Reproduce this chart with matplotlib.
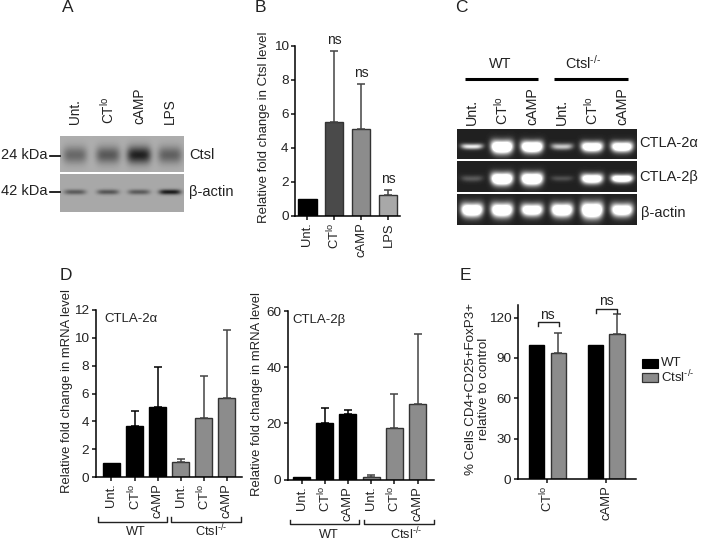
import numpy as np
import matplotlib
matplotlib.use("Agg")
import matplotlib.pyplot as plt

plt.rcParams["font.family"] = ["Liberation Sans", "DejaVu Sans"]
plt.rcParams["mathtext.fontset"] = "custom"
plt.rcParams["mathtext.rm"] = "Liberation Sans"
plt.rcParams["mathtext.default"] = "regular"

W, H = 701, 541
CTLO = "CT$^{lo}$"
KO = r"Ctsl$^{\text{-/-}}$"

# panel B
b_labels = ["Unt.", CTLO, "cAMP", "LPS"]
b_vals = [1.0, 5.5, 5.1, 1.25]
b_tops = [1.0, 9.7, 7.75, 1.5]
b_ns = ["", "ns", "ns", "ns"]
b_colors = ["#000000", "#4a4a4a", "#8c8c8c", "#a8a8a8"]

# panel D
d_labels = ["Unt.", CTLO, "cAMP", "Unt.", CTLO, "cAMP"]
d_colors = ["#000000"] * 3 + ["#8c8c8c"] * 3
alpha_vals = [1.0, 3.7, 5.0, 1.05, 4.25, 5.65]
alpha_tops = [1.0, 4.75, 7.9, 1.3, 7.25, 10.55]
beta_vals = [1.0, 20.0, 23.5, 1.0, 18.3, 26.8]
beta_tops = [1.0, 25.5, 24.8, 1.8, 30.5, 51.8]

# panel E
e_groups = [CTLO, "cAMP"]
e_wt = [100, 100]
e_ko = [93.5, 108]
e_ko_tops = [108.5, 122.5]

# gel A, band strength per lane
blot_lanes = [75, 108, 139, 170]
ctsl_amp = [0.27, 0.33, 0.55, 0.3]
actin_amp = [0.3, 0.32, 0.3, 0.55]

# gel C, band strength per lane
pcr_lanes = [472, 502, 532, 562, 592, 622]
c2a_amp = [0.8, 1.5, 1.5, 0.65, 1.3, 1.3]
c2a_high = [2.8, 6.5, 5.8, 3.2, 5.2, 5.2]
c2b_amp = [0.22, 1.5, 1.5, 0.18, 1.3, 1.3]
c2b_high = [3.2, 6.2, 6.2, 2.8, 5.0, 4.0]
cact_amp = [1.4, 1.4, 1.3, 1.4, 1.5, 1.3]
cact_high = [6.8, 7.0, 6.2, 6.8, 8.0, 6.5]


def px_axes(fig, l, t, r, b):
    return fig.add_axes([l / W, 1 - b / H, (r - l) / W, (b - t) / H])


def style_ax(ax):
    ax.patch.set_alpha(0)
    ax.spines["top"].set_visible(False)
    ax.spines["right"].set_visible(False)
    ax.spines["left"].set_linewidth(1.1)
    ax.spines["bottom"].set_linewidth(1.1)
    ax.tick_params(axis="both", width=1.1, length=2.8, labelsize=9.7, pad=1.8, color="#111111", labelcolor="#222222")
    ax.tick_params(axis="x", labelsize=9.4)


def bars(ax, xx, vals, tops, colors, width):
    for x, v, t, c in zip(xx, vals, tops, colors):
        ax.bar(x, v, width=width, color=c, edgecolor="#333333" if c != "#000000" else "#000000", linewidth=1.0)
        if t > v:
            ec = "#000000" if c == "#000000" else "#444444"
            ax.errorbar(x, v, yerr=[[0], [t - v]], color=ec, elinewidth=1.1, capsize=3.2, capthick=1.1, zorder=1)


def blot_gel(ov, amp, lanes, yc, sy, sx, bg, extent):
    l, r, t, b = extent
    xx, yy = np.meshgrid(np.arange(l, r) + 0.5, np.arange(t, b) + 0.5)
    img = np.full(xx.shape, bg, dtype=float)
    for x0, a in zip(lanes, amp):
        img -= a * np.exp(-((xx - x0) / sx) ** 4) * np.exp(-((yy - yc) / sy) ** 2)
    ov.imshow(np.clip(img, 0, 1), cmap="gray", vmin=0, vmax=1, extent=[l, r, b, t], aspect="auto", interpolation="bilinear", zorder=2)


def pcr_gel(ov, amp, high, lanes, yc, extent):
    l, r, t, b = extent
    xx, yy = np.meshgrid(np.arange(l, r) + 0.5, np.arange(t, b) + 0.5)
    img = np.full(xx.shape, 0.13)
    for x0, a, h in zip(lanes, amp, high):
        sag = 1.0 - ((xx - x0) / 12.0) ** 2
        img += a * np.exp(-((xx - x0) / 11.0) ** 4) * np.exp(-((yy - yc - 0.2 * h * sag) / h) ** 2)
    ov.imshow(np.clip(img, 0, 1), cmap="gray", vmin=0, vmax=1, extent=[l, r, b, t], aspect="auto", interpolation="bilinear", zorder=2)


def draw_overlay(fig):
    ov = fig.add_axes([0, 0, 1, 1], zorder=5)
    ov.axis("off")
    ov.patch.set_alpha(0)

    blot_gel(ov, ctsl_amp, blot_lanes, 155, 8.5, 12, 0.68, (60, 184, 136, 172))
    blot_gel(ov, actin_amp, blot_lanes, 192, 2.6, 11, 0.66, (60, 184, 174, 212))
    pcr_gel(ov, c2a_amp, c2a_high, pcr_lanes, 146, (457, 637, 129, 159))
    pcr_gel(ov, c2b_amp, c2b_high, pcr_lanes, 178, (457, 637, 161, 192))
    pcr_gel(ov, cact_amp, cact_high, pcr_lanes, 209, (457, 637, 194, 225))

    ov.set_xlim(0, W)
    ov.set_ylim(H, 0)

    tc = "#222222"
    for lab, x, y in [("A", 68, 8), ("B", 260, 8), ("C", 461, 8), ("D", 66, 275), ("E", 465, 275)]:
        ov.text(x, y, lab, fontsize=12.5, ha="center", va="center", color=tc)

    # A
    for x, lab in zip(blot_lanes, b_labels):
        ov.text(x, 124, lab, rotation=90, fontsize=9.8, ha="center", va="bottom", color=tc)
    ov.text(47.5, 155, "24 kDa", fontsize=10.5, ha="right", va="center", color=tc)
    ov.text(47.5, 191, "42 kDa", fontsize=10.5, ha="right", va="center", color=tc)
    ov.plot([50, 59.5], [156, 156], color="k", lw=1.2)
    ov.plot([50, 59.5], [192, 192], color="k", lw=1.2)
    ov.text(189, 155, "Ctsl", fontsize=10.5, va="center", color=tc)
    ov.text(189, 192, "β-actin", fontsize=10.5, va="center", color=tc)

    # C
    ov.text(500.5, 64, "WT", fontsize=10.4, ha="center", va="center", color=tc)
    ov.text(583, 63, KO, fontsize=10.4, ha="center", va="center", color=tc)
    ov.plot([464.5, 538], [78.7, 78.7], color="k", lw=2.2, solid_capstyle="butt")
    ov.plot([553.5, 627.5], [78.7, 78.7], color="k", lw=2.2, solid_capstyle="butt")
    for x, lab in zip(pcr_lanes, d_labels):
        ov.text(x, 125, lab, rotation=90, fontsize=10.3, ha="center", va="bottom", color=tc)
    ov.text(639.5, 143, "CTLA-2α", fontsize=10.5, va="center", color=tc)
    ov.text(639.5, 177, "CTLA-2β", fontsize=10.5, va="center", color=tc)
    ov.text(641, 213, "β-actin", fontsize=10.5, va="center", color=tc)

    # D brackets
    for l, r, y, up in [(98, 166.5, 521.7, 5), (171, 240.5, 521.7, 5), (290, 359, 524, 4), (364, 433.5, 524, 4)]:
        ov.plot([l, l, r, r], [y - up, y, y, y - up], color="#222222", lw=1.0)
    ov.text(135.5, 532, "WT", fontsize=9.2, ha="center", va="center", color=tc)
    ov.text(211, 531, KO, fontsize=9.2, ha="center", va="center", color=tc)
    ov.text(329, 535, "WT", fontsize=9.2, ha="center", va="center", color=tc)
    ov.text(406, 534, KO, fontsize=9.2, ha="center", va="center", color=tc)

    # E brackets
    for l, r, y, tx in [(537.5, 559, 322.3, 547.7), (595.7, 617.3, 308.7, 606.7)]:
        ov.plot([l, l, r, r], [y + 4, y, y, y + 4], color="#222222", lw=1.0)
        ov.text(tx, y - 7.5, "ns", fontsize=10, ha="center", va="center", color=tc)

    # E legend
    ov.add_patch(plt.Rectangle((642.3, 359), 16, 8.7, fc="#000000", ec="#000000", lw=0.8))
    ov.add_patch(plt.Rectangle((642.3, 373.3), 16, 8.4, fc="#8c8c8c", ec="#333333", lw=0.9))
    ov.text(661, 362.5, "WT", fontsize=9.5, va="center", color=tc)
    ov.text(661, 377, KO, fontsize=9.5, va="center", color=tc)

    # axis titles
    ov.text(264, 127, "Relative fold change in Ctsl level", rotation=90, fontsize=9.5, ha="center", va="center", color=tc)
    ov.text(67, 391, "Relative fold change in mRNA level", rotation=90, fontsize=9.4, ha="center", va="center", color=tc)
    ov.text(257, 394, "Relative fold change in mRNA level", rotation=90, fontsize=9.4, ha="center", va="center", color=tc)
    ov.text(477.5, 389, "% Cells CD4+CD25+FoxP3+\nrelative to control", rotation=90, fontsize=9.6, ha="center", va="center", multialignment="center", linespacing=1.1, color=tc)


def draw_b(fig):
    ax = px_axes(fig, 295, 45.7, 400, 216)
    xx = np.arange(len(b_vals))
    bars(ax, xx, b_vals, b_tops, b_colors, 0.67)
    ax.set_xlim(-0.463, 3.43)
    ax.set_ylim(0, 10)
    ax.set_yticks([0, 2, 4, 6, 8, 10])
    ax.set_xticks(xx)
    ax.set_xticklabels(b_labels, rotation=90)
    style_ax(ax)
    for x, t, s in zip(xx, b_tops, b_ns):
        if s:
            ax.text(x, t + 0.25, s, ha="center", va="bottom", fontsize=10, color="#222222", clip_on=False)


def draw_d(fig, box, xlim, ymax, yticks, vals, tops, name, name_x):
    ax = px_axes(fig, *box)
    xx = np.arange(len(vals))
    bars(ax, xx, vals, tops, d_colors, 0.74)
    ax.set_xlim(*xlim)
    ax.set_ylim(0, ymax)
    ax.set_yticks(yticks)
    ax.set_xticks(xx)
    ax.set_xticklabels(d_labels, rotation=90)
    style_ax(ax)
    ax.text(name_x, 0.945, name, transform=ax.transAxes, fontsize=9.5, va="center", color="#222222")


def draw_e(fig):
    ax = px_axes(fig, 517.7, 305, 635.7, 479)
    xx = np.arange(len(e_groups))
    bars(ax, xx - 0.185, e_wt, e_wt, ["#000000"] * 2, 0.265)
    bars(ax, xx + 0.185, e_ko, e_ko_tops, ["#8c8c8c"] * 2, 0.265)
    ax.set_xlim(-0.505, 1.5)
    ax.set_ylim(0, 129.4)
    ax.set_yticks([0, 30, 60, 90, 120])
    ax.set_xticks(xx)
    ax.set_xticklabels(e_groups, rotation=90)
    style_ax(ax)


if __name__ == "__main__":
    fig = plt.figure(figsize=(W / 100, H / 100), dpi=100, facecolor="white")
    draw_b(fig)
    draw_d(fig, (95.7, 310, 241.7, 477), (-0.68, 5.64), 12, [0, 2, 4, 6, 8, 10, 12], alpha_vals, alpha_tops, "CTLA-2α", 0.06)
    draw_d(fig, (287.7, 311, 434, 479.7), (-0.595, 5.71), 60, [0, 20, 40, 60], beta_vals, beta_tops, "CTLA-2β", 0.035)
    draw_e(fig)
    draw_overlay(fig)
    fig.savefig("out.png", dpi=100)
